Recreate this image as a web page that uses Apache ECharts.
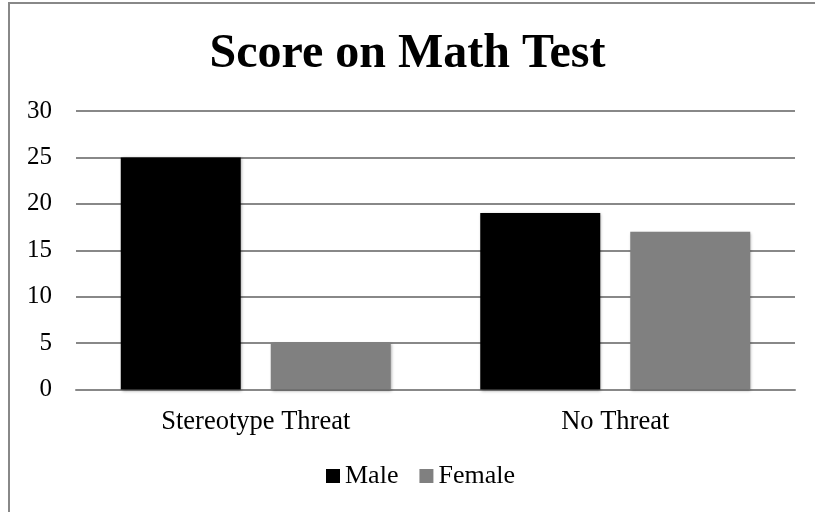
<!DOCTYPE html>
<html>
<head>
<meta charset="utf-8">
<script src="https://cdn.jsdelivr.net/npm/echarts@6/dist/echarts.min.js"></script>
<style>html,body{margin:0;padding:0;background:#fff;}#c{width:815px;height:512px;}</style>
</head>
<body>
<div id="c"></div>
<script>
const titleText = 'Score on Math Test';
const categories = ['Stereotype Threat', 'No Threat'];
const maleValues = [25, 19];
const femaleValues = [5, 17];
const yTicks = [0, 5, 10, 15, 20, 25, 30];

const font = '"Liberation Serif", "Times New Roman", serif';
const chart = echarts.init(document.getElementById('c'), null, {renderer: 'canvas'});
chart.setOption({
  animation: false,
  backgroundColor: '#fff',
  title: {
    text: titleText,
    left: 'center',
    top: 26,
    textStyle: {fontFamily: font, fontSize: 48, fontWeight: 'bold', color: '#000'}
  },
  graphic: [
    {type: 'line', shape: {x1: 9, y1: 2, x2: 9, y2: 512}, style: {stroke: '#888', lineWidth: 2}},
    {type: 'line', shape: {x1: 8, y1: 3, x2: 815, y2: 3}, style: {stroke: '#888', lineWidth: 2}}
  ],
  legend: {
    data: ['Male', 'Female'],
    left: 326,
    top: 463,
    padding: 0,
    itemWidth: 14,
    itemHeight: 14,
    itemGap: 21,
    icon: 'rect',
    textStyle: {fontFamily: font, fontSize: 26, color: '#000'}
  },
  grid: {left: 76, right: 20, top: 111, bottom: 122.5, containLabel: false},
  xAxis: {
    type: 'category',
    data: categories,
    axisLine: {show: true, lineStyle: {color: '#888', width: 2}},
    axisTick: {show: false},
    axisLabel: {fontFamily: font, fontSize: 26.5, color: '#000', margin: 19}
  },
  yAxis: {
    type: 'value',
    min: yTicks[0],
    max: yTicks[yTicks.length - 1],
    interval: 5,
    axisLine: {show: false},
    axisTick: {show: false},
    axisLabel: {fontFamily: font, fontSize: 25, color: '#000', margin: 24},
    splitLine: {lineStyle: {color: '#888', width: 2}}
  },
  series: [
    {
      name: 'Male', type: 'bar', data: maleValues, barWidth: 120, barGap: '25%',
      itemStyle: {color: '#000', shadowBlur: 3, shadowColor: 'rgba(0,0,0,0.35)', shadowOffsetX: 1, shadowOffsetY: 1}
    },
    {
      name: 'Female', type: 'bar', data: femaleValues, barWidth: 120,
      itemStyle: {color: '#808080', shadowBlur: 3, shadowColor: 'rgba(0,0,0,0.35)', shadowOffsetX: 1, shadowOffsetY: 1}
    }
  ]
});
</script>
</body>
</html>
